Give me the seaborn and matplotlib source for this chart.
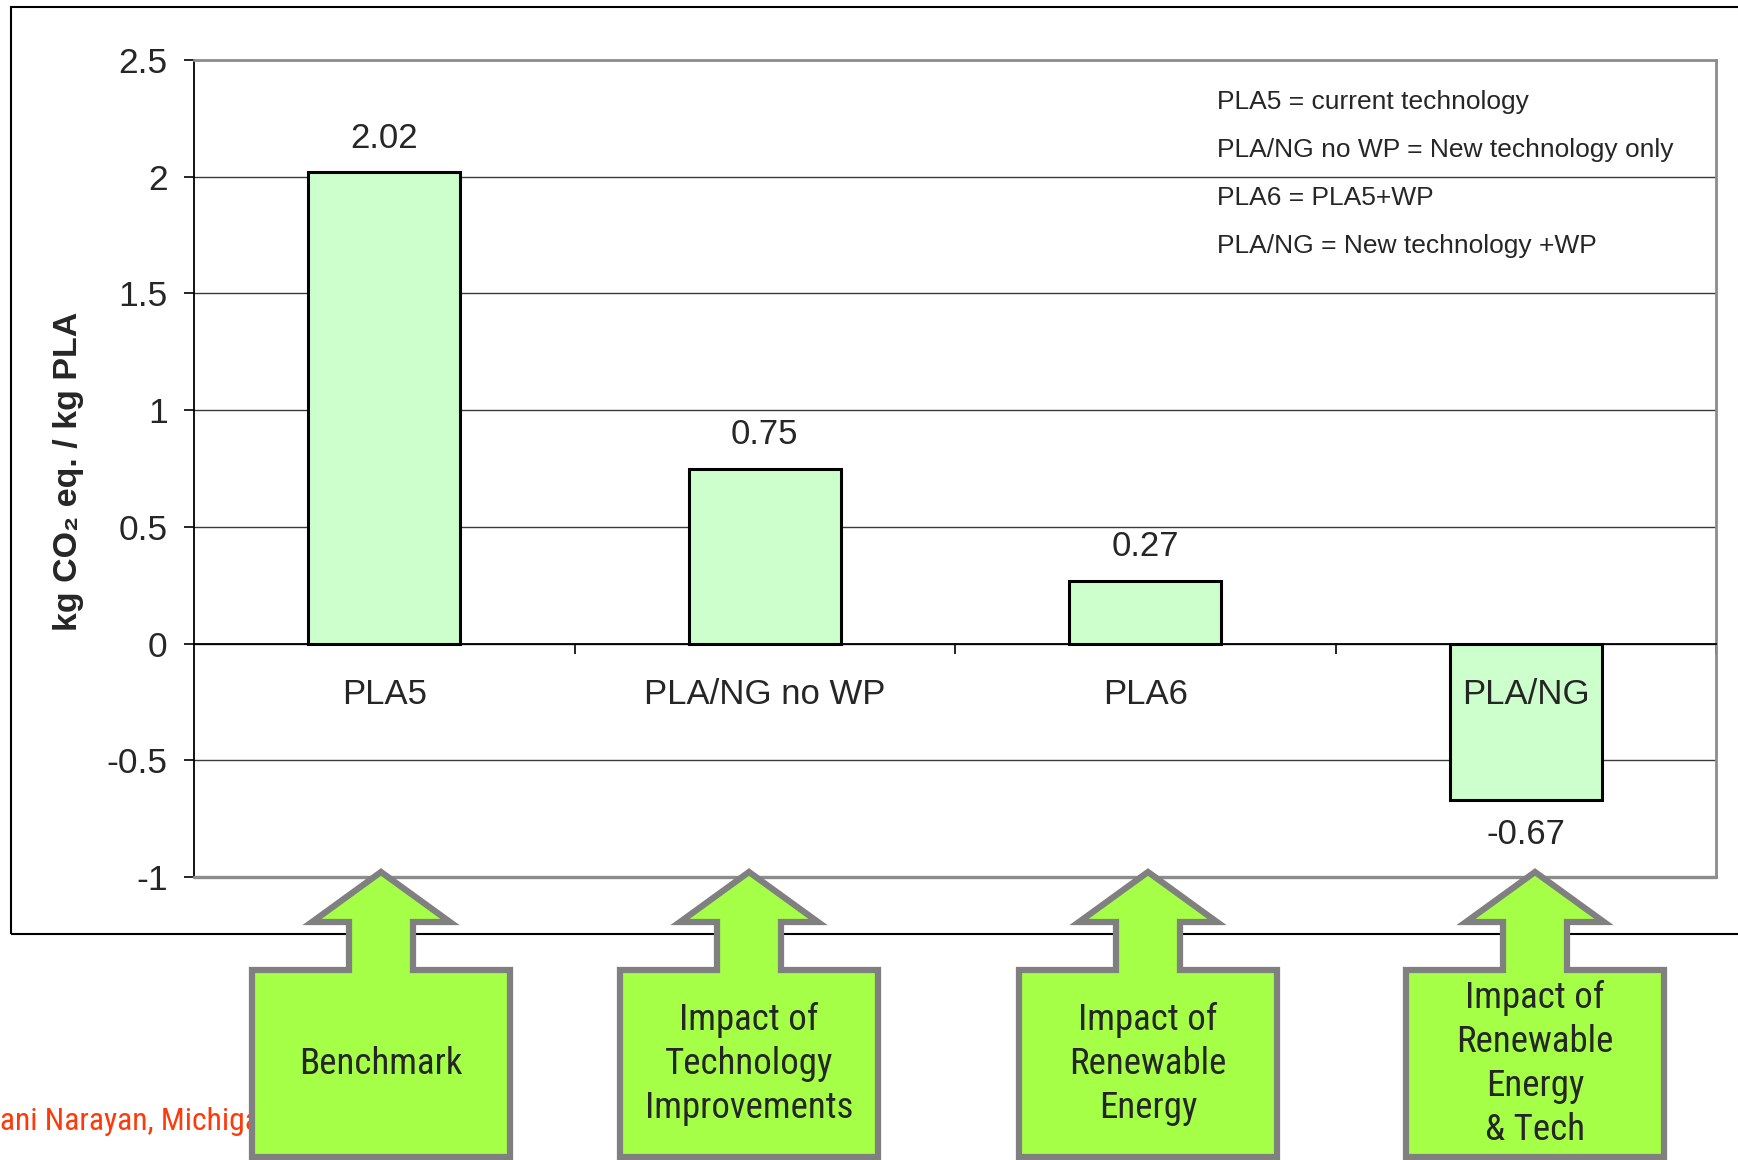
import matplotlib
matplotlib.use("Agg")
import matplotlib.pyplot as plt
from matplotlib import font_manager
from matplotlib.patches import Polygon, Rectangle
from matplotlib.ticker import FixedLocator, FuncFormatter, NullFormatter
import seaborn as sns

# ---- data -------------------------------------------------------------
categories = ["PLA5", "PLA/NG no WP", "PLA6", "PLA/NG"]
co2_values = [2.02, 0.75, 0.27, -0.67]
y_ticks = [-1, -0.5, 0, 0.5, 1, 1.5, 2, 2.5]
definitions = [
    "PLA5 = current technology",
    "PLA/NG no WP = New technology only",
    "PLA6 = PLA5+WP",
    "PLA/NG = New technology +WP",
]
impact_labels = [
    "Benchmark",
    "Impact of\nTechnology\nImprovements",
    "Impact of\nRenewable\nEnergy",
    "Impact of\nRenewable\nEnergy\n& Tech",
]
credit = "Ramani Narayan, Michigan State University"

# ---- style ------------------------------------------------------------
sns.set_style("white")
plt.rcParams["font.family"] = ["Liberation Sans", "DejaVu Sans"]
plt.rcParams["axes.unicode_minus"] = False

installed = {f.name for f in font_manager.fontManager.ttflist}
narrow_candidates = ["Liberation Sans Narrow", "Arial Narrow", "Roboto Condensed", "Roboto"]
NARROW = next((n for n in narrow_candidates if n in installed), "Liberation Sans")
NARROW_WEIGHT = "normal"

W, H = 1738, 1160
fig = plt.figure(figsize=(W / 100, H / 100), dpi=100, facecolor="white")
renderer = fig.canvas.get_renderer()


def fx(x):
    return x / W


def fy(y):
    return 1 - y / H


def text_extent(s, **kw):
    t = fig.text(0, 0, s, **kw)
    bb = t.get_window_extent(renderer)
    t.remove()
    return bb


# size the condensed callout font so that its widest word keeps the
# proportions of a narrow grotesque at 28 pt
probe_size = 28
w_probe = text_extent("Improvements", fontsize=probe_size, family=NARROW,
                      fontweight=NARROW_WEIGHT).width
BOX_SIZE = min(28.0, probe_size * 208.0 / w_probe)
adv = (text_extent("Ag\nAg", fontsize=BOX_SIZE, family=NARROW, linespacing=1.0).height
       - text_extent("Ag", fontsize=BOX_SIZE, family=NARROW).height)
BOX_SPACING = 46.2 / adv
CREDIT_SIZE = BOX_SIZE * 24.0 / 28.0

# outer chart frame (runs off the right edge)
fig.add_artist(Rectangle((fx(11), fy(934)), 2.0, (934 - 7) / H, fill=False,
                         edgecolor="black", linewidth=1.5,
                         transform=fig.transFigure, zorder=0.2))

ax = fig.add_axes([fx(194), fy(877), (1716 - 194) / W, (877 - 60) / H])
ax.set_facecolor("none")

sns.barplot(x=categories, y=co2_values, color="#ccffcc", saturation=1,
            edgecolor="black", linewidth=2.2, width=0.4, ax=ax, zorder=3)

ax.set_xlim(-0.5, len(categories) - 0.5)
ax.set_ylim(-1, 2.5)

# y axis
ax.yaxis.set_major_locator(FixedLocator(y_ticks))
ax.yaxis.set_major_formatter(FuncFormatter(lambda v, _: f"{v:g}"))
ax.tick_params(axis="y", direction="out", length=7, width=1.2, color="black",
               labelsize=25.5, pad=12, left=True)
ax.yaxis.grid(True, color="#3a3a3a", linewidth=1.0, zorder=0)
ax.set_axisbelow(True)

# category axis sits on the zero line, tick marks between categories
ax.spines["bottom"].set_position(("data", 0))
ax.spines["bottom"].set_color("black")
ax.spines["bottom"].set_linewidth(1.3)
ax.spines["bottom"].set_zorder(4)
ax.xaxis.set_major_locator(FixedLocator(range(len(categories))))
ax.xaxis.set_major_formatter(NullFormatter())
ax.xaxis.set_minor_locator(FixedLocator([i + 0.5 for i in range(len(categories))]))
ax.xaxis.set_minor_formatter(NullFormatter())
ax.tick_params(axis="x", which="major", length=0)
ax.tick_params(axis="x", which="minor", direction="out", length=7, width=1.2,
               color="black", bottom=True)
ax.set_xlabel("")
ax.set_ylabel("")

# category names just under the zero line, drawn above the bars
for i, name in enumerate(categories):
    ax.annotate(name, xy=(i, 0), xytext=(0, -37), textcoords="offset points",
                ha="center", va="center", fontsize=25, zorder=6)

# plot-area border
ax.spines["left"].set_color("black")
ax.spines["left"].set_linewidth(1.3)
for side in ("top", "right"):
    ax.spines[side].set_visible(True)
    ax.spines[side].set_color("#8c8c8c")
    ax.spines[side].set_linewidth(2.0)
ax.axhline(-1, color="#8c8c8c", linewidth=2.4, clip_on=False, zorder=4)

# value labels
for i, v in enumerate(co2_values):
    ax.annotate(f"{v:g}", xy=(i, v), xytext=(0, 24.5 if v >= 0 else -25),
                textcoords="offset points", ha="center", va="center",
                fontsize=25, zorder=6)

# definitions block
for k, line in enumerate(definitions):
    fig.text(fx(1217), fy(102 + 48.0 * k), line, fontsize=19,
             ha="left", va="center")

# y-axis title
fig.text(fx(69), fy(471), "kg CO\u2082 eq. / kg PLA", rotation=90,
         ha="center", va="center", fontsize=24.5, fontweight="bold")

# credit line, partly running off the left edge
credit_y = fy(1122)
shift = text_extent("Ram", fontsize=CREDIT_SIZE, family=NARROW,
                    fontweight=NARROW_WEIGHT).width / W
fig.text(-shift, credit_y, credit, fontsize=CREDIT_SIZE, family=NARROW,
         fontweight=NARROW_WEIGHT, color="#ff3a0a", ha="left", va="center",
         zorder=1)

# up-arrow callouts under each bar
arrow_centres = [381, 749, 1148, 1535]
for cx, label in zip(arrow_centres, impact_labels):
    pts = [
        (cx, 872), (cx + 69, 922), (cx + 32, 922), (cx + 32, 970),
        (cx + 129, 970), (cx + 129, 1157), (cx - 129, 1157), (cx - 129, 970),
        (cx - 32, 970), (cx - 32, 922), (cx - 69, 922),
    ]
    fig.add_artist(Polygon([(fx(x), fy(y)) for x, y in pts], closed=True,
                           facecolor="#a4ff46", edgecolor="#808080",
                           linewidth=4.5, joinstyle="miter",
                           transform=fig.transFigure, zorder=10))
    fig.text(fx(cx), fy(1064), label, fontsize=BOX_SIZE, family=NARROW,
             fontweight=NARROW_WEIGHT, ha="center", va="center",
             multialignment="center", linespacing=BOX_SPACING, zorder=11)

fig.savefig("out.png", dpi=100, facecolor="white")
